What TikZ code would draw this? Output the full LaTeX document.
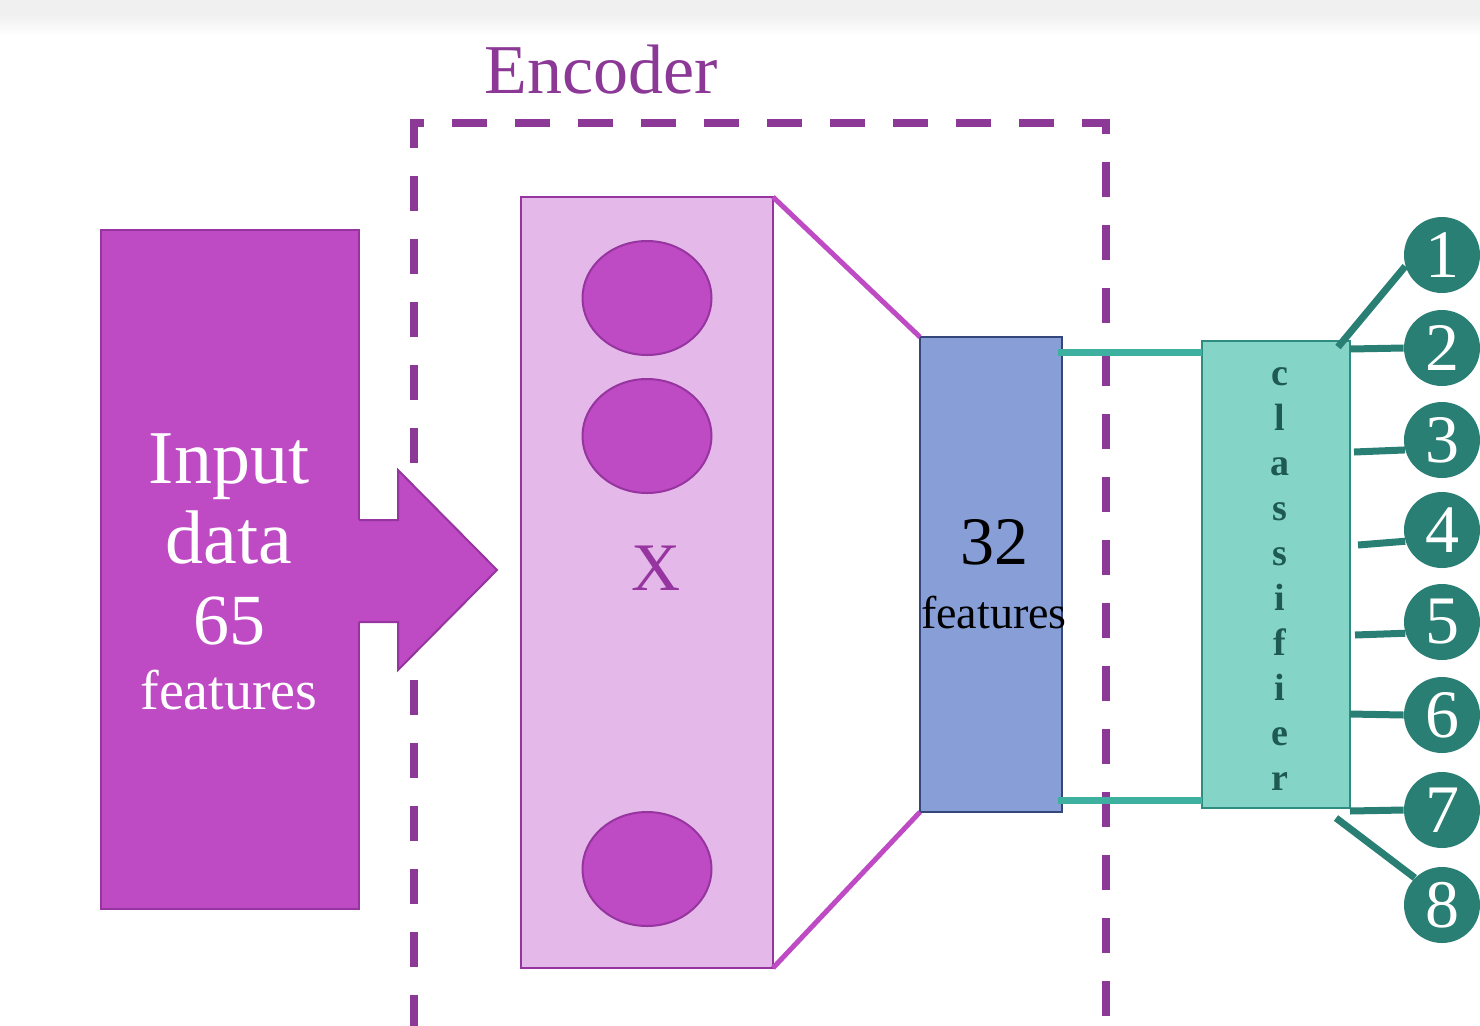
\documentclass[tikz,border=0pt]{standalone}
\usepackage{fontspec}
\setmainfont{Liberation Serif}
\usetikzlibrary{positioning,shapes.geometric}
\definecolor{inmag}{RGB}{190,74,196}
\definecolor{inmagdark}{RGB}{150,52,160}
\definecolor{encpurple}{RGB}{140,56,150}
\definecolor{hidpink}{RGB}{228,184,232}
\definecolor{latblue}{RGB}{135,158,214}
\definecolor{latbluedark}{RGB}{52,70,122}
\definecolor{clsteal}{RGB}{132,213,200}
\definecolor{clstealdark}{RGB}{46,140,128}
\definecolor{featteal}{RGB}{62,176,160}
\definecolor{outteal}{RGB}{42,127,116}
\definecolor{lettal}{RGB}{30,90,82}
\tikzset{block/.style={draw, line width=1pt, inner sep=0pt, outer sep=0pt, anchor=north west}}
\tikzset{neuron/.style={ellipse, draw=inmagdark, fill=inmag, line width=1pt, minimum width=64.5pt, minimum height=57pt}}
\tikzset{outnode/.style={circle, fill=outteal, text=white, minimum size=38pt, inner sep=0pt, font=\fontsize{34}{34}\selectfont}}
\tikzset{outline/.style={draw=outteal, line width=3.5pt}}
\tikzset{featline/.style={draw=featteal, line width=3.5pt}}

\begin{document}
\begin{tikzpicture}[x=0.5pt, y=-0.5pt]
\useasboundingbox (0,0) rectangle (1480,1025);
\fill[gray!12] (0,0) rectangle (1480,14);
\shade[top color=gray!12, bottom color=white] (0,14) rectangle (1480,36);
% encoder frame
\draw[encpurple, line width=4pt, dash pattern=on 17.5pt off 14pt] (414,1030) -- (414,123) -- (1106,123) -- (1106,1030);
\node[encpurple, anchor=base, font=\fontsize{35}{35}\selectfont] (enc) at (601,93) {Encoder};
% input data
\node[block, draw=inmagdark, fill=inmag, minimum width=129pt, minimum height=339.5pt] (inp) at (101,230) {};
\fill[inmag] (356,520) -- (398,520) -- (398,470) -- (497,570) -- (398,670) -- (398,622) -- (356,622) -- cycle;
\draw[inmagdark, line width=1pt] (359,520) -- (398,520) -- (398,470) -- (497,570) -- (398,670) -- (398,622) -- (359,622);
\node[white, anchor=base, font=\fontsize{38}{38}\selectfont] (inl1) at (229,483) {Input};
\node[white, anchor=base, font=\fontsize{38}{38}\selectfont] (inl2) at (229,563) {data};
\node[white, anchor=base, font=\fontsize{36}{36}\selectfont] (inl3) at (229,644) {65};
\node[white, anchor=base, font=\fontsize{28}{28}\selectfont] (inl4) at (229,709) {features};
% hidden layer
\node[block, draw=inmagdark, fill=hidpink, minimum width=126pt, minimum height=385.5pt] (hid) at (521,197) {};
\node[neuron] (n1) at (647,298) {};
\node[neuron] (n2) at (647,436) {};
\node[neuron] (n3) at (647,869) {};
\node[inmagdark, anchor=base, font=\fontsize{34}{34}\selectfont] (xl) at (656,590) {X};
% latent
\node[block, draw=latbluedark, fill=latblue, minimum width=71pt, minimum height=237.5pt] (lat) at (920,337) {};
\draw[inmag, line width=2.5pt] (hid.north east) -- (lat.north west);
\draw[inmag, line width=2.5pt] (hid.south east) -- (lat.south west);
\node[anchor=base, font=\fontsize{34}{34}\selectfont] (latn) at (994,564) {32};
\node[anchor=base, font=\fontsize{23}{23}\selectfont] (latf) at (994,628) {features};
% classifier
\node[block, draw=clstealdark, fill=clsteal, minimum width=74pt, minimum height=233.5pt] (cls) at (1202,341) {};
\draw[featline] ([xshift=-2pt, yshift=-7.5pt]lat.north east) -- ([yshift=-7.5pt]lat.north east -| cls.west);
\draw[featline] ([xshift=-2pt, yshift=6pt]lat.south east) -- ([yshift=6pt]lat.south east -| cls.west);
\foreach \l [count=\k] in {c,l,a,s,s,i,f,i,e,r}
  \node[lettal, anchor=base, font=\fontsize{19}{19}\selectfont\bfseries] at (1280,{385+45*(\k-1)}) {\l};
% outputs
\foreach \i/\y/\sx/\sy/\a in {1/255/1338/347/197, 2/348/1350/349/180, 3/440/1354/452/195, 4/530/1358/545/197,
  5/622/1355/635/197, 6/715/1350/714/180, 7/810/1350/811/180, 8/905/1336/818/135} {
  \node[outnode] (o\i) at (1442,\y) {\i};
  \coordinate (s\i) at (\sx,\sy);
  \draw[outline] (s\i) -- (o\i.\a);
}
\end{tikzpicture}
\end{document}
